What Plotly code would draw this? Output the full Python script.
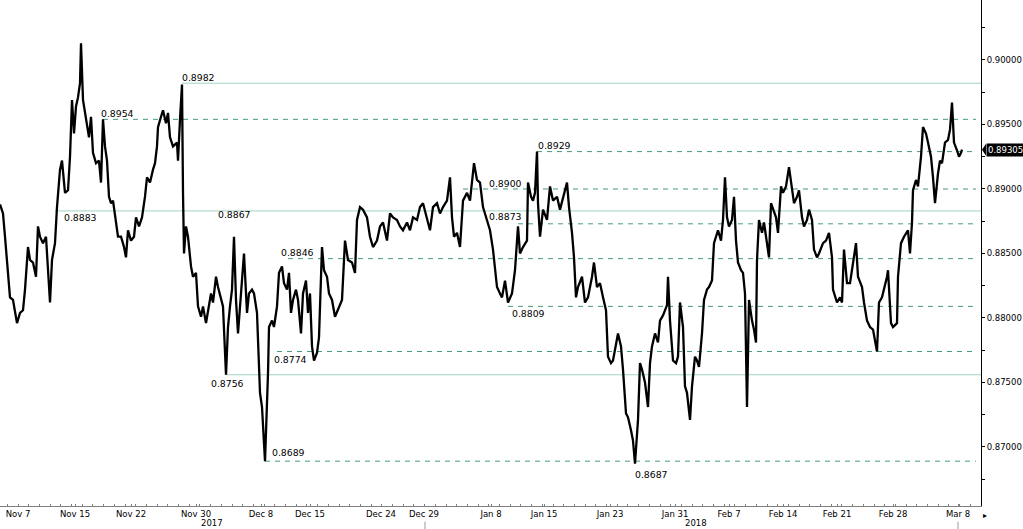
import plotly.graph_objects as go

# ---- price path (position index along the session axis, price) ----
t = [0, 3, 5, 8, 10, 13, 15, 17, 20, 23, 25, 28, 30, 33, 36, 38, 40, 43, 46, 49,
     50, 52, 55, 57, 60, 62, 65, 68, 70, 72, 74, 76, 78, 80, 81, 83, 85, 87, 89, 91,
     93, 96, 99, 101, 103, 105, 107, 109, 111, 113, 116, 118, 121, 124, 126, 128, 131, 134, 136, 139,
     142, 145, 147, 150, 153, 155, 157, 158, 161, 163, 166, 168, 170, 173, 177, 178, 180, 182, 183, 184,
     186, 188, 191, 193, 196, 198, 201, 203, 206, 208, 211, 213, 216, 218, 221, 223, 226, 228, 230, 232,
     234, 236, 238, 240, 242, 244, 247, 249, 252, 254, 257, 258, 260, 262, 264, 265, 268, 269, 272, 274,
     277, 279, 282, 284, 287, 289, 291, 293, 296, 298, 301, 303, 306, 308, 310, 312, 314, 317, 319, 321,
     322, 324, 327, 329, 332, 335, 338, 342, 345, 348, 352, 355, 357, 360, 363, 367, 370, 373, 377, 380,
     383, 387, 390, 393, 397, 400, 403, 407, 410, 413, 417, 420, 423, 427, 430, 433, 437, 440, 443, 447,
     450, 452, 454, 457, 460, 463, 467, 470, 474, 477, 480, 483, 487, 490, 493, 497, 500, 502, 505, 508,
     512, 515, 518, 520, 523, 527, 528, 531, 533, 535, 537, 538, 540, 543, 547, 550, 553, 557, 560, 563,
     567, 569, 572, 574, 576, 578, 582, 585, 588, 592, 594, 597, 600, 603, 606, 608, 611, 613, 616, 618,
     621, 623, 626, 628, 631, 633, 635, 638, 640, 642, 645, 648, 650, 652, 655, 658, 660, 663, 667, 668,
     670, 673, 676, 678, 680, 683, 685, 687, 690, 692, 695, 697, 699, 702, 704, 707, 709, 712, 714, 716,
     718, 721, 723, 725, 727, 729, 732, 734, 736, 738, 741, 743, 745, 747, 749, 752, 754, 756, 757, 759,
     762, 764, 767, 769, 771, 773, 776, 778, 781, 783, 786, 789, 792, 794, 797, 799, 802, 804, 807, 809,
     812, 814, 817, 819, 823, 826, 829, 832, 833, 837, 840, 842, 844, 847, 850, 853, 856, 858, 862, 864,
     867, 870, 873, 877, 879, 882, 884, 887, 888, 891, 893, 897, 898, 901, 904, 908, 910, 912, 913, 916,
     918, 921, 923, 926, 928, 931, 933, 935, 938, 940, 942, 945, 948, 950, 952, 954, 957, 959, 961, 962]

price = [0.8888, 0.8881, 0.8863, 0.8832, 0.8816, 0.8814, 0.8806, 0.8796, 0.8804, 0.8806,
         0.8822, 0.8855, 0.8845, 0.8843, 0.8832, 0.8871, 0.8863, 0.8858, 0.8863, 0.8818,
         0.8812, 0.8845, 0.8858, 0.8886, 0.8915, 0.8922, 0.8897, 0.8899, 0.8925, 0.8969,
         0.8943, 0.8964, 0.8971, 0.8982, 0.9013, 0.8969, 0.8959, 0.8948, 0.8940, 0.8956,
         0.8928, 0.8920, 0.8922, 0.8905, 0.8954, 0.8933, 0.8922, 0.8894, 0.8889, 0.8891,
         0.8874, 0.8863, 0.8863, 0.8855, 0.8847, 0.8868, 0.8860, 0.8863, 0.8878, 0.8871,
         0.8878, 0.8894, 0.8909, 0.8905, 0.8915, 0.8920, 0.8933, 0.8948, 0.8956, 0.8961,
         0.8951, 0.8959, 0.8940, 0.8933, 0.8936, 0.8922, 0.8954, 0.8981, 0.8897, 0.8850,
         0.8871, 0.8863, 0.8840, 0.8832, 0.8835, 0.8809, 0.8801, 0.8809, 0.8796, 0.8804,
         0.8819, 0.8812, 0.8832, 0.8824, 0.8814, 0.8809, 0.8756, 0.8793, 0.8809, 0.8822,
         0.8863, 0.8814, 0.8788, 0.8809, 0.8829, 0.8850, 0.8804, 0.8819, 0.8822, 0.8819,
         0.8804, 0.8778, 0.8742, 0.8731, 0.8703, 0.8689, 0.8757, 0.8793, 0.8798, 0.8793,
         0.8809, 0.8835, 0.8840, 0.8827, 0.8822, 0.8835, 0.8804, 0.8814, 0.8822, 0.8814,
         0.8788, 0.8819, 0.8829, 0.8804, 0.8819, 0.8778, 0.8767, 0.8773, 0.8785, 0.8832,
         0.8855, 0.8837, 0.8832, 0.8819, 0.8814, 0.8801, 0.8806, 0.8814, 0.8860, 0.8845,
         0.8843, 0.8835, 0.8876, 0.8886, 0.8884, 0.8878, 0.8863, 0.8855, 0.8860, 0.8871,
         0.8874, 0.8860, 0.8881, 0.8878, 0.8876, 0.8871, 0.8868, 0.8874, 0.8868, 0.8878,
         0.8876, 0.8886, 0.8889, 0.8876, 0.8868, 0.8886, 0.8889, 0.8881, 0.8886, 0.8891,
         0.8909, 0.8878, 0.8863, 0.8866, 0.8855, 0.8891, 0.8897, 0.8891, 0.8920, 0.8907,
         0.8905, 0.8886, 0.8876, 0.8868, 0.8853, 0.8824, 0.8819, 0.8816, 0.8829, 0.8812,
         0.8819, 0.8837, 0.8871, 0.8850, 0.8855, 0.8860, 0.8905, 0.8894, 0.8891, 0.8897,
         0.8929, 0.8889, 0.8863, 0.8884, 0.8876, 0.8902, 0.8891, 0.8894, 0.8884, 0.8894,
         0.8905, 0.8886, 0.8866, 0.8847, 0.8816, 0.8824, 0.8832, 0.8812, 0.8816, 0.8832,
         0.8843, 0.8824, 0.8827, 0.8816, 0.8806, 0.8770, 0.8765, 0.8767, 0.8781, 0.8788,
         0.8778, 0.8760, 0.8726, 0.8723, 0.8713, 0.8705, 0.8687, 0.8721, 0.8765, 0.8760,
         0.8750, 0.8731, 0.8765, 0.8778, 0.8788, 0.8781, 0.8798, 0.8802, 0.8810, 0.8832,
         0.8798, 0.8767, 0.8765, 0.8770, 0.8812, 0.8793, 0.8747, 0.8742, 0.8721, 0.8747,
         0.8770, 0.8767, 0.8762, 0.8788, 0.8814, 0.8822, 0.8824, 0.8829, 0.8858, 0.8863,
         0.8868, 0.8860, 0.8876, 0.8909, 0.8878, 0.8871, 0.8876, 0.8894, 0.8860, 0.8843,
         0.8837, 0.8835, 0.8819, 0.8731, 0.8814, 0.8798, 0.8791, 0.8781, 0.8845, 0.8876,
         0.8866, 0.8874, 0.8858, 0.8847, 0.8889, 0.8884, 0.8878, 0.8866, 0.8902, 0.8897,
         0.8902, 0.8917, 0.8899, 0.8889, 0.8894, 0.8899, 0.8878, 0.8871, 0.8876, 0.8884,
         0.8876, 0.8853, 0.8847, 0.8850, 0.8858, 0.8860, 0.8866, 0.8847, 0.8822, 0.8812,
         0.8816, 0.8812, 0.8853, 0.8827, 0.8827, 0.8843, 0.8858, 0.8832, 0.8824, 0.8812,
         0.8798, 0.8793, 0.8791, 0.8774, 0.8812, 0.8816, 0.8822, 0.8832, 0.8837, 0.8796,
         0.8793, 0.8796, 0.8832, 0.8858, 0.8863, 0.8868, 0.8850, 0.8874, 0.8899, 0.8907,
         0.8902, 0.8925, 0.8948, 0.8943, 0.8936, 0.8925, 0.8909, 0.8889, 0.8912, 0.8922,
         0.8920, 0.8936, 0.8938, 0.8946, 0.8967, 0.8936, 0.8930, 0.8925, 0.8928, 0.89305]

last_price = 0.89305

# ---- date axis ----
tick_pos = [18, 75, 131, 196, 261, 310, 381, 424, 491, 544, 610, 675, 729, 783, 837, 893, 958]
tick_text = ["Nov 7", "Nov 15", "Nov 22", "Nov 30", "Dec 8", "Dec 15", "Dec 24", "Dec 29",
             "Jan 8", "Jan 15", "Jan 23", "Jan 31", "Feb 7", "Feb 14", "Feb 21", "Feb 28", "Mar 8"]
year_pos = [212, 696]
year_text = ["2017", "2018"]
year_breaks = [425, 958]

# ---- levels: value, start position, style ----
level_vals = [0.8982, 0.8954, 0.8883, 0.8929, 0.8900, 0.8873, 0.8846, 0.8809, 0.8774, 0.8756, 0.8689]
level_start = [182, 103, 55, 537, 463, 518, 288, 508, 277, 226, 265]
level_solid = [True, False, True, False, False, False, False, False, False, True, False]

# ---- level labels: text, anchor level, x position, vertical shift (px) ----
lab_text = ["0.8982", "0.8954", "0.8883", "0.8867", "0.8846", "0.8929", "0.8900",
            "0.8873", "0.8809", "0.8774", "0.8756", "0.8689", "0.8687"]
lab_level = [0.8982, 0.8954, 0.8883, 0.8883, 0.8846, 0.8929, 0.8900,
             0.8873, 0.8809, 0.8774, 0.8756, 0.8689, 0.8687]
lab_x = [180, 99, 62, 216, 279, 536, 487, 487, 510, 272, 209, 270, 633]
lab_shift = [6, 6, -7, -4, 6, 6, 5, 7, -7, -8, -9, 9, -11]

SOLID = "rgb(160,212,194)"
DASHED = "rgb(70,155,125)"
FONT = "DejaVu Sans"

fig = go.Figure()

x_end = 981
for v, s, solid in zip(level_vals, level_start, level_solid):
    fig.add_trace(go.Scatter(
        x=[s, x_end if solid else 976], y=[v, v], mode="lines",
        line=dict(color=SOLID if solid else DASHED, width=1,
                  dash="solid" if solid else "5px,5px"),
        hoverinfo="skip", showlegend=False))

fig.add_trace(go.Scatter(x=t, y=price, mode="lines",
                         line=dict(color="black", width=2.3),
                         showlegend=False, hoverinfo="x+y"))

for txt, lv, lx, sh in zip(lab_text, lab_level, lab_x, lab_shift):
    fig.add_annotation(x=lx, y=lv, text=txt, showarrow=False, xanchor="left",
                       yanchor="middle", yshift=sh,
                       font=dict(family=FONT, size=9.3, color="black"))

for yp, yt in zip(year_pos, year_text):
    fig.add_annotation(x=yp, y=0, yref="paper", text=yt, showarrow=False,
                       yanchor="middle", yshift=-17,
                       font=dict(family=FONT, size=8.5, color="black"))

for b in year_breaks:
    fig.add_shape(type="line", x0=b, x1=b, xref="x", yref="paper",
                  y0=-0.031, y1=-0.046, line=dict(color="#999999", width=1))

# current price tag
fig.add_annotation(x=1, xref="paper", y=last_price, text="0.89305", showarrow=False,
                   xanchor="left", yanchor="middle", xshift=5,
                   bgcolor="black", borderpad=1,
                   font=dict(family=FONT, size=8.5, color="white"))
fig.add_shape(type="path", xref="paper", yref="y", xsizemode="pixel", ysizemode="pixel",
              xanchor=1, yanchor=last_price,
              path="M 1 0 L 5 -6 L 5 6 Z", fillcolor="black", line=dict(width=0))

fig.add_annotation(x=1, xref="paper", y=0, yref="paper", text="▸", showarrow=False,
                   xanchor="left", yanchor="middle", xshift=0, yshift=-9,
                   font=dict(family=FONT, size=8, color="black"))

fig.update_layout(
    width=1023, height=529,
    margin=dict(l=0, r=42, t=0, b=23),
    plot_bgcolor="white", paper_bgcolor="white",
    font=dict(family=FONT, size=8.5, color="black"),
    showlegend=False,
    xaxis=dict(range=[0, 981], tickvals=tick_pos, ticktext=tick_text,
               showgrid=False, zeroline=False, showline=True,
               linecolor="#808080", linewidth=1,
               ticks="inside", ticklen=2, tickcolor="#808080",
               minor=dict(dtick=10.7, tick0=7.3, ticks="inside", ticklen=2,
                          tickcolor="#808080", showgrid=False),
               tickfont=dict(family=FONT, size=8.5, color="black")),
    yaxis=dict(side="right", range=[0.865426, 0.90465],
               tickvals=[0.870, 0.875, 0.880, 0.885, 0.890, 0.895, 0.900],
               tickformat=".5f", showgrid=False, zeroline=False,
               showline=True, linecolor="black", linewidth=1,
               ticks="outside", ticklen=3, tickcolor="black",
               minor=dict(dtick=0.0025, tick0=0, ticks="outside", ticklen=3,
                          tickcolor="black", showgrid=False),
               tickfont=dict(family=FONT, size=8.5, color="black")),
)

fig.write_html("out.html", config={"displayModeBar": False},
               post_script="document.body.style.margin='0';document.body.style.overflow='hidden';")
